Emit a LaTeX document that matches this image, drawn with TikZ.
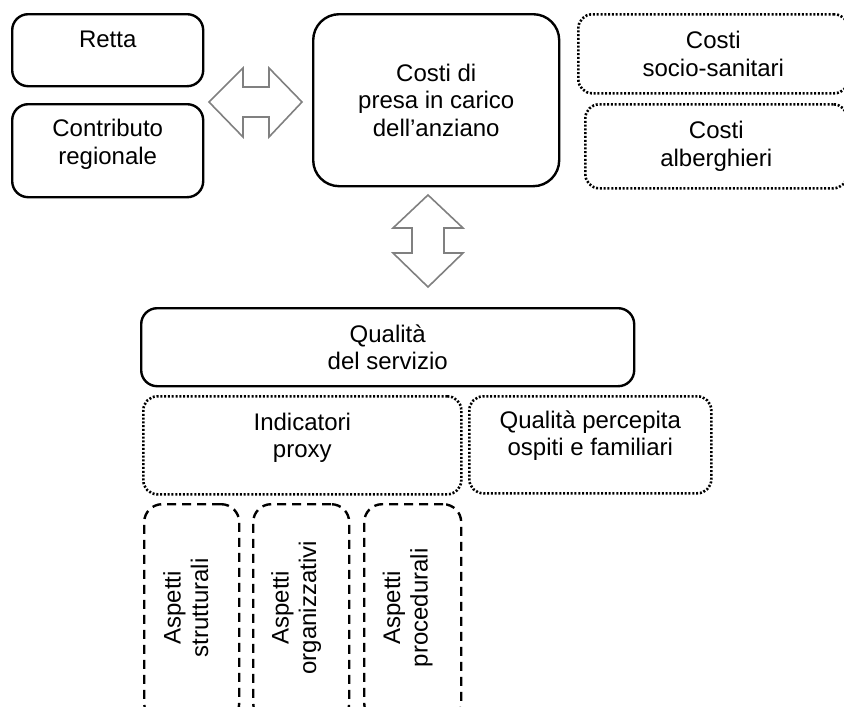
\documentclass[tikz,border=0pt]{standalone}
\usepackage{fontspec}
\setmainfont{Liberation Sans}
\begin{document}
\begin{tikzpicture}[x=1pt,y=-1pt,
  base/.style={rectangle, align=center, inner sep=0pt, anchor=north west,
    font=\fontsize{24}{27.5}\selectfont},
  solidbox/.style={base, draw=black, line width=2.4pt, rounded corners=16pt},
  dotbox/.style={base, draw=black, line width=2.6pt, dash pattern=on 2pt off 1.8pt, rounded corners=14pt},
  dashbox/.style={base, draw=black, line width=2.4pt, dash pattern=on 9pt off 6pt, rounded corners=18pt},
  vlabel/.style={align=center, inner sep=0pt, rotate=90, font=\fontsize{24}{27.5}\selectfont},
  blockarrow/.style={draw=gray, line width=1.6pt, line join=miter}
]
\useasboundingbox (0,0) rectangle (844,707);
\clip (0,0) rectangle (844,707);

% funding sources
\node[solidbox, minimum width=191pt, minimum height=72pt] (retta) at (11,13) {Retta\\[-5pt]\mbox{}};
\node[solidbox, minimum width=191pt, minimum height=93pt] (contrib) at (11,103) {Contributo\\regionale\\[-10pt]\mbox{}};

% central cost box
\node[solidbox, rounded corners=26pt, minimum width=246pt, minimum height=172pt] (costi) at (312,13)
  {Costi di\\presa in carico\\dell’anziano};

% cost components
\node[dotbox, minimum width=270pt, minimum height=79pt] (socio) at (577,13) {Costi\\socio-sanitari};
\node[dotbox, minimum width=262pt, minimum height=84pt] (alber) at (584,103) {Costi\\alberghieri};

% service quality
\node[solidbox, minimum width=493pt, minimum height=78pt] (qual) at (140,307) {Qualità\\del servizio};
\node[dotbox, minimum width=318pt, minimum height=98pt] (indic) at (142,395) {Indicatori\\proxy\\[-7pt]\mbox{}};
\node[dotbox, minimum width=242pt, minimum height=97pt] (perc) at (468,395) {Qualità percepita\\ospiti e familiari\\[-4pt]\mbox{}};

% proxy aspects
\node[dashbox, minimum width=95pt, minimum height=217pt] (strut) at (143,503) {};
\node[dashbox, minimum width=96pt, minimum height=217pt] (org) at (252,503) {};
\node[dashbox, minimum width=97pt, minimum height=217pt] (proc) at (363,503) {};
\node[vlabel] (strut-t) at ([xshift=-6pt,yshift=5pt]strut.center) {Aspetti\\strutturali};
\node[vlabel] (org-t) at ([xshift=-5pt,yshift=5pt]org.center) {Aspetti\\organizzativi};
\node[vlabel] (proc-t) at ([xshift=-5pt,yshift=5pt]proc.center) {Aspetti\\procedurali};

% block arrows
\draw[blockarrow] (209,102) -- (243,68) -- (243,87) -- (269,87) -- (269,68) -- (302,102)
  -- (269,137) -- (269,117) -- (243,117) -- (243,137) -- cycle;
\draw[blockarrow] (428,195) -- (463,228) -- (444,228) -- (444,253) -- (463,253) -- (428,287)
  -- (393,253) -- (412,253) -- (412,228) -- (393,228) -- cycle;
\end{tikzpicture}
\end{document}
